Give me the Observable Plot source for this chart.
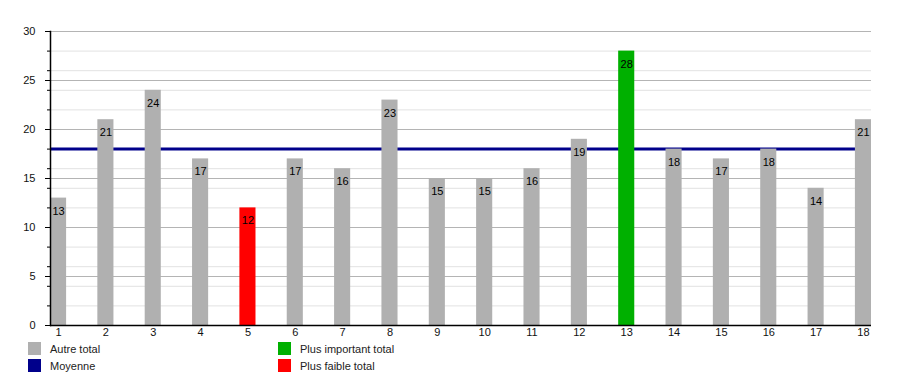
<!DOCTYPE html>
<html><head><meta charset="utf-8">
<script src="https://cdn.jsdelivr.net/npm/d3@7"></script>
<script src="https://cdn.jsdelivr.net/npm/@observablehq/plot@0.6"></script>
<style>
body{margin:0;background:#fff;font-family:"Liberation Sans",Arial,sans-serif;}
#wrap{position:relative;width:900px;height:375px;overflow:hidden;}
#chart{position:absolute;left:0;top:0;}
.leg{position:absolute;font-size:11px;color:#222;line-height:13px;white-space:nowrap;}
.sw{position:absolute;width:13px;height:13px;}
</style></head><body><div id="wrap"><div id="chart"></div></div>
<script>
const categories = ["1","2","3","4","5","6","7","8","9","10","11","12","13","14","15","16","17","18"];
const values = [13,21,24,17,12,17,16,23,15,15,16,19,28,18,17,18,14,21];
const majorTicks = [0,5,10,15,20,25,30];
const minorTicks = [2,4,6,8,12,14,16,18,22,24,26,28];
const legendLabels = ["Autre total","Moyenne","Plus important total","Plus faible total"];
const legendColors = ["#b0b0b0","#00008b","#00b000","#ff0000"];

const data = categories.map((c,i)=>({cat:c, value:values[i]}));
const maxV = d3.max(values), minV = d3.min(values), mean = d3.mean(values);
const barColor = d => d.value===maxV ? legendColors[2] : d.value===minV ? legendColors[3] : legendColors[0];

const chart = Plot.plot({
  width:900, height:340, marginLeft:50, marginRight:29, marginTop:31, marginBottom:15,
  style:{fontFamily:"Liberation Sans, Arial, sans-serif", fontSize:"11px", background:"white", color:"black"},
  x:{domain:categories, paddingInner:0.66, paddingOuter:0, round:false, axis:null, label:null},
  y:{domain:[0,30], axis:null, label:null},
  color:{type:"identity"},
  marks:[
    Plot.gridY(minorTicks,{stroke:"#e2e2e2", strokeOpacity:1}),
    Plot.gridY(majorTicks.filter(v=>v>0),{stroke:"#b4b4b4", strokeOpacity:1}),
    Plot.ruleY([mean],{stroke:legendColors[1], strokeWidth:3}),
    Plot.barY(data,{x:"cat", y:"value", fill:barColor}),
    Plot.text(data,{x:"cat", y:"value", text:d=>String(d.value), dy:13, fill:"black", fontSize:11}),
    Plot.ruleY([0],{stroke:"black", strokeWidth:1.5}),
    Plot.frame({anchor:"left", stroke:"black", strokeWidth:1.5}),
    Plot.axisY(majorTicks,{tickSize:5, tickPadding:10, fill:"#111", label:null}),
    Plot.axisY(minorTicks,{tickSize:3, tickFormat:()=>"", label:null}),
    Plot.axisX({tickSize:0, tickPadding:3, fill:"#111", label:null})
  ]
});
document.getElementById("chart").appendChild(chart);

const wrap = document.getElementById("wrap");
const pos = [[28,342],[28,359],[278,342],[278,359]];
legendLabels.forEach((lab,i)=>{
  const sw = document.createElement("div");
  sw.className="sw"; sw.style.left=pos[i][0]+"px"; sw.style.top=pos[i][1]+"px"; sw.style.background=legendColors[i];
  wrap.appendChild(sw);
  const t = document.createElement("div");
  t.className="leg"; t.style.left=(pos[i][0]+22)+"px"; t.style.top=(pos[i][1]+1)+"px"; t.textContent=lab;
  wrap.appendChild(t);
});
</script></body></html>
